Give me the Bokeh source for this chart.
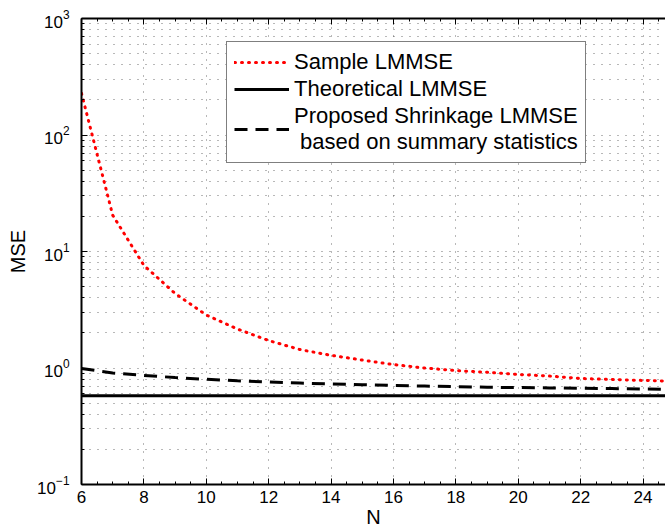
from bokeh.plotting import figure
from bokeh.models import (Range1d, SingleIntervalTicker, FixedTicker, LinearAxis,
                          Legend, LegendItem, CustomJSTickFormatter)
from bokeh.embed import file_html
from bokeh.resources import INLINE

# ---- data ----
N = [6, 7, 8, 9, 10, 11, 12, 13, 14, 15, 16, 17, 18, 19, 20, 21, 22, 23, 24, 25]
sample_lmmse = [228, 20.5, 7.6, 4.36, 2.85, 2.16, 1.72, 1.44, 1.285, 1.17,
                1.07, 1.0, 0.95, 0.918, 0.88, 0.853, 0.813, 0.796, 0.782, 0.77]
theoretical_lmmse = [0.578] * len(N)
shrinkage_lmmse = [0.99, 0.906, 0.863, 0.828, 0.80, 0.776, 0.758, 0.743, 0.729, 0.718,
                   0.708, 0.70, 0.692, 0.684, 0.679, 0.675, 0.670, 0.666, 0.660, 0.655]
x_ticks_interval = 2
y_major_ticks = [0.1, 1, 10, 100, 1000]
y_minor_ticks = [m * d for d in [0.1, 1, 10, 100] for m in range(2, 10)]
labels = ["Sample LMMSE", "Theoretical LMMSE",
          "Proposed Shrinkage LMMSE\n based on summary statistics"]

FONT = "Liberation Sans"

p = figure(width=665, height=531, y_axis_type="log",
           x_range=Range1d(6, 24.72), y_range=Range1d(0.1, 1000),
           output_backend="svg", toolbar_location=None,
           min_border_left=81, min_border_right=0, min_border_top=18,
           min_border_bottom=47)
p.outline_line_color = None
p.background_fill_color = "white"
p.border_fill_color = "white"

# axes
p.xaxis.ticker = SingleIntervalTicker(interval=x_ticks_interval, num_minor_ticks=4)
p.yaxis.ticker = FixedTicker(ticks=y_major_ticks, minor_ticks=y_minor_ticks)
for ax in p.xaxis + p.yaxis:
    ax.axis_line_width = 2
    ax.axis_line_color = "black"
    ax.major_tick_in = 6
    ax.major_tick_out = 0
    ax.minor_tick_in = 3
    ax.minor_tick_out = 0
    ax.major_tick_line_color = "black"
    ax.minor_tick_line_color = "black"
    ax.major_label_text_font = FONT
    ax.major_label_text_font_size = "17px"
    ax.major_label_text_color = "black"
    ax.axis_label_text_font = FONT
    ax.axis_label_text_font_size = "20px"
    ax.axis_label_text_font_style = "normal"
    ax.axis_label_text_color = "black"
p.xaxis.axis_label = "N"
p.yaxis.axis_label = "MSE"
p.xaxis.major_label_standoff = 6
p.xaxis.axis_label_standoff = 0
p.yaxis.major_label_standoff = 12
p.yaxis.axis_label_standoff = 5

top = LinearAxis(ticker=SingleIntervalTicker(interval=x_ticks_interval, num_minor_ticks=4),
                 formatter=CustomJSTickFormatter(code="return ''"),
                 axis_line_width=2, major_tick_in=6, major_tick_out=0,
                 minor_tick_in=3, minor_tick_out=0, major_label_standoff=0)
p.add_layout(top, "above")

# grid
for g in [p.xgrid[0], p.ygrid[0]]:
    g.grid_line_color = "#333333"
    g.grid_line_alpha = 0.7
    g.grid_line_dash = "1 7"
    g.grid_line_width = 1
p.ygrid[0].minor_grid_line_color = "#333333"
p.ygrid[0].minor_grid_line_alpha = 0.7
p.ygrid[0].minor_grid_line_dash = "1 7"

# lines
r1 = p.line(N, sample_lmmse, line_color="#ff0000", line_width=3,
            line_dash="1 6", line_cap="round")
r2 = p.line(N, theoretical_lmmse, line_color="black", line_width=3.2)
r3 = p.line(N, shrinkage_lmmse, line_color="black", line_width=3,
            line_dash="13 8")

legend = Legend(items=[LegendItem(label=labels[0], renderers=[r1]),
                       LegendItem(label=labels[1], renderers=[r2]),
                       LegendItem(label=labels[2], renderers=[r3])],
                location=(145, 321))
legend.label_text_font = FONT
legend.label_text_font_size = "22px"
legend.label_text_line_height = 1.25
legend.label_text_color = "black"
legend.glyph_width = 55
legend.label_standoff = 5
legend.padding = 7
legend.margin = 0
legend.spacing = 1
legend.border_line_color = "black"
legend.border_line_width = 1.5
legend.background_fill_alpha = 1
p.add_layout(legend, "center")

open("out.html", "w").write(file_html(p, INLINE))
